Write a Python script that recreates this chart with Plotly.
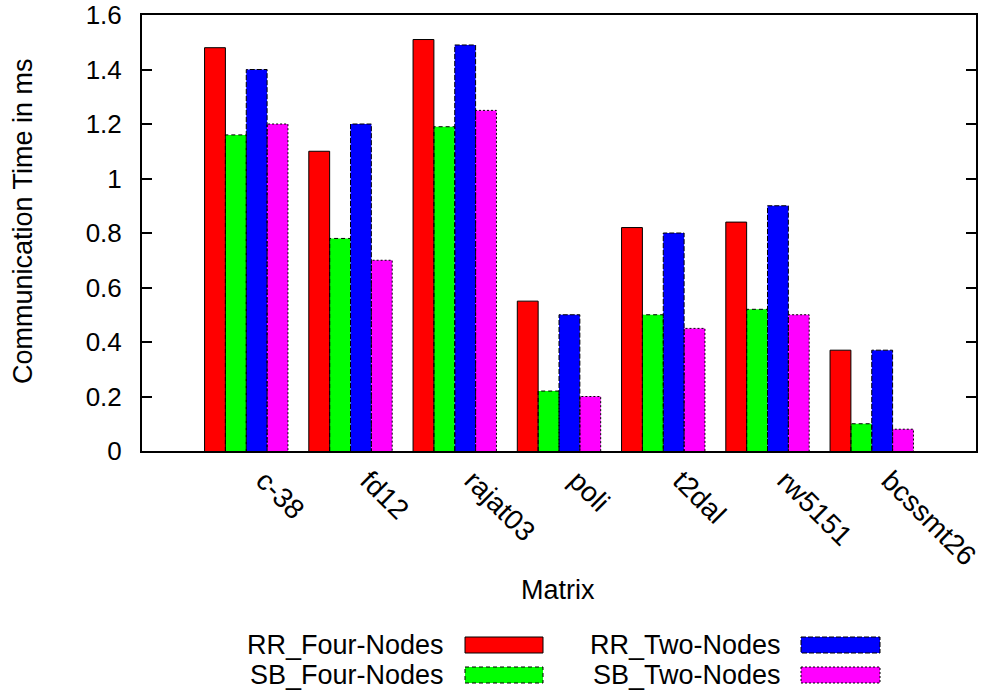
import plotly.graph_objects as go

# Communication time (ms) per matrix for each partitioning / node setup
matrices = ["c-38", "fd12", "rajat03", "poli", "t2dal", "rw5151", "bcssmt26"]
rr_four = [1.48, 1.10, 1.51, 0.55, 0.82, 0.84, 0.37]
sb_four = [1.16, 0.78, 1.19, 0.22, 0.50, 0.52, 0.10]
rr_two = [1.40, 1.20, 1.49, 0.50, 0.80, 0.90, 0.37]
sb_two = [1.20, 0.70, 1.25, 0.20, 0.45, 0.50, 0.08]
y_ticks = [0, 0.2, 0.4, 0.6, 0.8, 1.0, 1.2, 1.4, 1.6]
y_tick_labels = ["0", "0.2", "0.4", "0.6", "0.8", "1", "1.2", "1.4", "1.6"]

series = [
    ("RR_Four-Nodes", rr_four, "#ff0000", "solid"),
    ("SB_Four-Nodes", sb_four, "#00ff00", "4px,3px"),
    ("RR_Two-Nodes", rr_two, "#0000ff", "5px,2px"),
    ("SB_Two-Nodes", sb_two, "#ff00ff", "2px,2px"),
]

FONT = "Liberation Sans, Arial, sans-serif"
W, H = 983, 693
L, R, T, B = 142, 7, 15, 242
PW, PH = W - L - R, H - T - B

xs = list(range(len(matrices)))
n = len(series)
group_width = 0.8
bw = group_width / n

fig = go.Figure()
for j, (name, vals, color, dash) in enumerate(series):
    fig.add_trace(go.Bar(
        x=xs, y=vals, name=name,
        marker=dict(color=color, line=dict(width=0)),
        showlegend=False,
    ))

# dashed / dotted outlines around each bar
for j, (name, vals, color, dash) in enumerate(series):
    ox, oy = [], []
    for i, v in zip(xs, vals):
        left = i - group_width / 2 + bw * j
        right = left + bw
        ox += [left, left, right, right, None]
        oy += [0, v, v, 0, None]
    fig.add_trace(go.Scatter(
        x=ox, y=oy, mode="lines",
        line=dict(color="black", width=1, dash=dash),
        hoverinfo="skip", showlegend=False,
    ))


def px_x(p):
    return (p - L) / PW


def px_y(p):
    return (H - B - p) / PH


# legend: text on the left, colour swatch on the right, two columns
annotations = []
shapes = []
cols = [(446, 465, 543), (783, 801, 880)]
rows = [645, 675]
for j, (name, vals, color, dash) in enumerate(series):
    c = cols[j // 2]
    r = rows[j % 2]
    annotations.append(dict(
        text=name, xref="paper", yref="paper",
        x=px_x(c[0]), y=px_y(r), xanchor="right", yanchor="middle",
        showarrow=False, font=dict(family=FONT, size=27, color="black"),
    ))
    shapes.append(dict(
        type="rect", xref="paper", yref="paper",
        x0=px_x(c[1]), x1=px_x(c[2]), y0=px_y(r - 8), y1=px_y(r + 8),
        fillcolor=color, line=dict(color="black", width=1, dash=dash),
    ))

annotations.append(dict(
    text="Communication Time in ms", xref="paper", yref="paper",
    x=px_x(23), y=px_y(221), xanchor="center", yanchor="middle",
    textangle=-90, showarrow=False,
    font=dict(family=FONT, size=27, color="black"),
))
annotations.append(dict(
    text="Matrix", xref="paper", yref="paper",
    x=px_x(558), y=px_y(590), xanchor="center", yanchor="middle",
    showarrow=False, font=dict(family=FONT, size=27, color="black"),
))

fig.update_layout(
    template="none",
    width=W, height=H,
    margin=dict(l=L, r=R, t=T, b=B, autoexpand=False),
    paper_bgcolor="white", plot_bgcolor="white",
    barmode="group", bargap=1 - group_width, bargroupgap=0,
    font=dict(family=FONT, size=27, color="black"),
    annotations=annotations, shapes=shapes,
    showlegend=False,
)
fig.update_xaxes(
    range=[-1, 7], tickvals=xs, ticktext=matrices,
    tickangle=45, ticks="", showgrid=False, zeroline=False,
    showline=True, linecolor="black", linewidth=2, mirror=True,
    tickfont=dict(family=FONT, size=28),
    ticklabelshift=18, ticklabelstandoff=0,
    automargin=False, ticklabeloverflow="allow",
)
fig.update_yaxes(
    range=[0, 1.6], tickvals=y_ticks, ticktext=y_tick_labels,
    ticks="inside", ticklen=10, tickwidth=1.5, tickcolor="black",
    showgrid=False, zeroline=False,
    showline=True, linecolor="black", linewidth=2, mirror="ticks",
    tickfont=dict(family=FONT, size=26), ticklabelstandoff=13,
    automargin=False, ticklabeloverflow="allow",
)

fig.write_html("out.html")
